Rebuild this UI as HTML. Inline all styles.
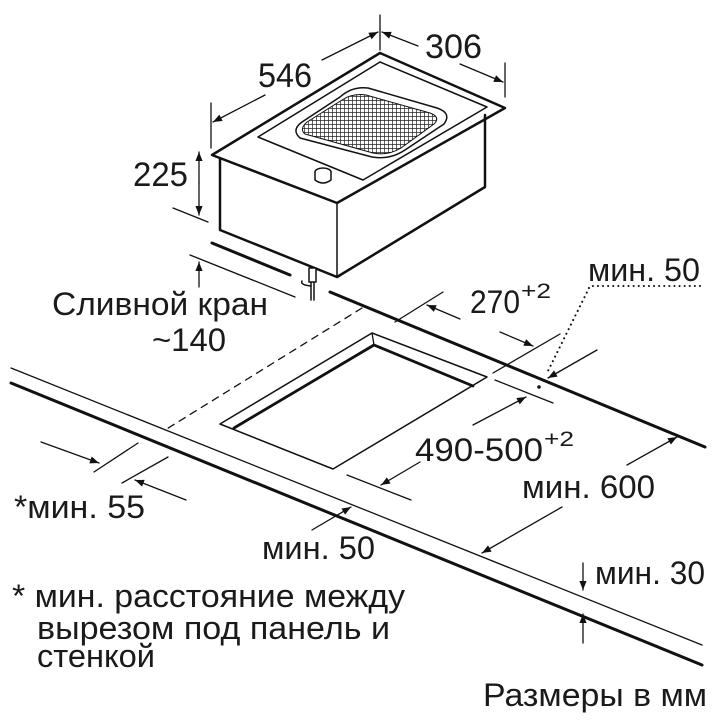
<!DOCTYPE html>
<html><head><meta charset="utf-8"><style>
html,body{margin:0;padding:0;background:#fff}
svg{display:block}
text{font-family:"Liberation Sans",sans-serif;fill:#1a1a1a}
</style></head><body>
<svg width="720" height="720" viewBox="0 0 720 720" xmlns="http://www.w3.org/2000/svg">
<defs>
<marker id="a" viewBox="0 0 10 10" refX="10" refY="5" markerWidth="13" markerHeight="9" orient="auto" markerUnits="userSpaceOnUse">
<path d="M0,1 L10,5 L0,9 Z" fill="#111"/></marker>
<pattern id="mesh" width="4" height="4" patternUnits="userSpaceOnUse">
<rect width="4" height="4" fill="#fff"/><path d="M0,0 H4 M0,0 V4" stroke="#222" stroke-width="1.4"/></pattern>
</defs>
<g stroke="#111" fill="none" stroke-linecap="round" stroke-linejoin="round">
<polygon points="212,155 380,53 505,108 337,203" stroke-width="2.5"/>
<polygon points="258,137 380,62 487,107 363,180" stroke-width="1.5"/>
<path d="M300,138 Q291,130 302,122 L340,97 Q352,86 368,88 L437,108 Q452,113 444,124 L405,150 Q390,160 372,157 Z" stroke-width="1.5" fill="#fff"/>
<path d="M305,134 Q299,129 307,122 L342,100 Q353,93 366,95 L430,113 Q441,117 434,124 L401,148 Q388,156 373,153 Z" fill="url(#mesh)" stroke-width="1"/>
<path d="M220,158 V230 L337,277 L485,187 V115" stroke-width="2.5"/>
<line x1="337" y1="203" x2="337" y2="277" stroke-width="1.5"/>
<ellipse cx="323" cy="172" rx="8" ry="4" fill="#fff" stroke-width="1.5"/>
<path d="M315,172 V180 Q323,186 331,180 V172" stroke-width="1.5" fill="#fff"/>
<path d="M311,276 V300 M314,276 V300" stroke-width="1.5"/>
<path d="M309,268 L316,268 L316,282 L309,282 Z M302,281 Q300,285 311,286" stroke-width="1.5" fill="#fff"/>
<line x1="212" y1="243" x2="290" y2="275" stroke-width="3"/>
<line x1="190" y1="255" x2="295" y2="297" stroke-width="1.3"/>
<line x1="330" y1="292" x2="705" y2="447" stroke-width="3"/>
<line x1="11" y1="368" x2="702" y2="645" stroke-width="1.3"/>
<line x1="11" y1="383" x2="702" y2="665" stroke-width="3"/>
<polygon points="220,424 372,333 487,377 333,469" stroke-width="1.5"/>
<path d="M234,428 L374,345 L473,386" stroke-width="2.8"/>
<line x1="372" y1="333" x2="374" y2="345" stroke-width="1.3"/>
<line x1="362" y1="308" x2="165" y2="430" stroke-width="1.3" stroke-dasharray="7,6"/>
<line x1="211" y1="103" x2="211" y2="148" stroke-width="1.3"/>
<line x1="380" y1="15" x2="380" y2="50" stroke-width="1.3"/>
<line x1="505" y1="63" x2="505" y2="97" stroke-width="1.3"/>
<line x1="265" y1="95" x2="213" y2="122" stroke-width="1.3" marker-end="url(#a)"/>
<line x1="322" y1="60" x2="378" y2="32" stroke-width="1.3" marker-end="url(#a)"/>
<line x1="418" y1="46" x2="382" y2="32" stroke-width="1.3" marker-end="url(#a)"/>
<line x1="460" y1="64" x2="503" y2="82" stroke-width="1.3" marker-end="url(#a)"/>
<line x1="199" y1="183" x2="199" y2="152" stroke-width="1.3" marker-end="url(#a)"/>
<line x1="199" y1="183" x2="199" y2="215" stroke-width="1.3" marker-end="url(#a)"/>
<line x1="173" y1="208" x2="208" y2="222" stroke-width="1.3"/>
<line x1="199" y1="287" x2="199" y2="262" stroke-width="1.3" marker-end="url(#a)"/>
<line x1="443" y1="292" x2="395" y2="322" stroke-width="1.3"/>
<line x1="560" y1="334" x2="493" y2="373" stroke-width="1.3"/>
<line x1="460" y1="319" x2="427" y2="305" stroke-width="1.3" marker-end="url(#a)"/>
<line x1="500" y1="332" x2="533" y2="346" stroke-width="1.3" marker-end="url(#a)"/>
<path d="M700,286 H590 L547,373" stroke-width="2" stroke-dasharray="0.1,5"/>
<circle cx="539" cy="387" r="1.8" fill="#111" stroke="none"/>
<line x1="597" y1="350" x2="548" y2="378" stroke-width="1.3" marker-end="url(#a)"/>
<line x1="495" y1="380" x2="553" y2="403" stroke-width="1.3"/>
<line x1="347" y1="475" x2="411" y2="500" stroke-width="1.3"/>
<line x1="473" y1="425" x2="526" y2="397" stroke-width="1.3" marker-end="url(#a)"/>
<line x1="420" y1="462" x2="381" y2="485" stroke-width="1.3" marker-end="url(#a)"/>
<line x1="627" y1="465" x2="677" y2="437" stroke-width="1.3" marker-end="url(#a)"/>
<line x1="562" y1="507" x2="482" y2="553" stroke-width="1.3" marker-end="url(#a)"/>
<line x1="312" y1="530" x2="351" y2="507" stroke-width="1.3" marker-end="url(#a)"/>
<line x1="138" y1="443" x2="94" y2="472" stroke-width="1.3"/>
<line x1="168" y1="457" x2="122" y2="483" stroke-width="1.3"/>
<line x1="41" y1="442" x2="99" y2="463" stroke-width="1.3" marker-end="url(#a)"/>
<line x1="186" y1="500" x2="135" y2="480" stroke-width="1.3" marker-end="url(#a)"/>
<line x1="583" y1="563" x2="583" y2="590" stroke-width="1.3" marker-end="url(#a)"/>
<line x1="583" y1="643" x2="583" y2="614" stroke-width="1.3" marker-end="url(#a)"/>
</g>
<g font-size="34">
<text x="258" y="87" textLength="54" lengthAdjust="spacingAndGlyphs">546</text>
<text x="425" y="58" textLength="57" lengthAdjust="spacingAndGlyphs">306</text>
<text x="133" y="186" textLength="55" lengthAdjust="spacingAndGlyphs">225</text>
</g>
<g font-size="32">
<text x="52" y="315" textLength="216" lengthAdjust="spacingAndGlyphs">Сливной кран</text>
<text x="152" y="351" textLength="74" lengthAdjust="spacingAndGlyphs">~140</text>
<text x="470" y="313" textLength="50" lengthAdjust="spacingAndGlyphs">270</text><text x="521" y="298" font-size="21" textLength="30" lengthAdjust="spacingAndGlyphs">+2</text>
<text x="588" y="281" textLength="112" lengthAdjust="spacingAndGlyphs">мин. 50</text>
<text x="415" y="461" textLength="128" lengthAdjust="spacingAndGlyphs">490-500</text><text x="544" y="446" font-size="21" textLength="30" lengthAdjust="spacingAndGlyphs">+2</text>
<text x="522" y="498" textLength="133" lengthAdjust="spacingAndGlyphs">мин. 600</text>
<text x="14" y="518" textLength="131" lengthAdjust="spacingAndGlyphs">*мин. 55</text>
<text x="262" y="559" textLength="113" lengthAdjust="spacingAndGlyphs">мин. 50</text>
<text x="595" y="584" textLength="110" lengthAdjust="spacingAndGlyphs">мин. 30</text>
<text x="12" y="607" textLength="393" lengthAdjust="spacingAndGlyphs">* мин. расстояние между</text>
<text x="37" y="639" textLength="353" lengthAdjust="spacingAndGlyphs">вырезом под панель и</text>
<text x="37" y="667" textLength="118" lengthAdjust="spacingAndGlyphs">стенкой</text>
<text x="483" y="706" textLength="224" lengthAdjust="spacingAndGlyphs">Размеры в мм</text>
</g>
</svg>
</body></html>
